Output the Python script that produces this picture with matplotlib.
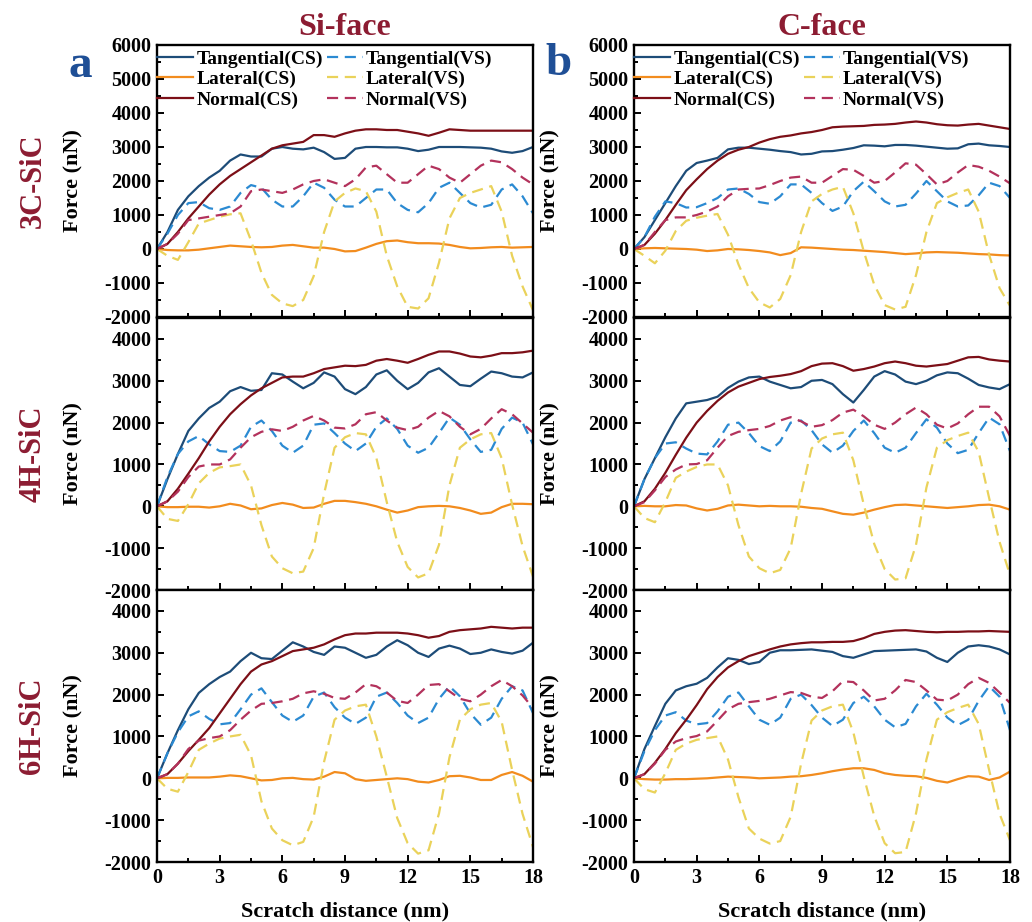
import numpy as np
import matplotlib
matplotlib.use("Agg")
import matplotlib.pyplot as plt
from matplotlib.ticker import MultipleLocator

plt.rcParams['font.family'] = 'Liberation Serif'
plt.rcParams['font.weight'] = 'bold'
plt.rcParams['axes.labelweight'] = 'bold'
plt.rcParams['axes.titleweight'] = 'bold'
plt.rcParams['axes.unicode_minus'] = False

# scratch distance (nm), sampled every 0.5 nm
dist = np.arange(0, 18.5, 0.5)

# ---- Si-face, 3C-SiC ----
si3c_tan_cs = [0, 500, 1150, 1550, 1850, 2100, 2300, 2600, 2780, 2720, 2720, 2950, 3000, 2950, 2930, 2980, 2850, 2650, 2680,
               2950, 3000, 3000, 2990, 2990, 2950, 2880, 2920, 3000, 3000, 3000, 2990, 2980, 2950, 2870, 2830, 2880, 3000]
si3c_tan_vs = [0, 450, 1000, 1350, 1380, 1200, 1150, 1250, 1650, 1880, 1800, 1450, 1250, 1250, 1550, 1950, 1800, 1450, 1250,
               1250, 1500, 1750, 1750, 1350, 1150, 1080, 1350, 1800, 1950, 1650, 1350, 1220, 1300, 1750, 1900, 1550, 1050]
si3c_lat_cs = [0, -30, -40, -40, -20, 20, 60, 100, 80, 60, 50, 60, 100, 120, 80, 40, 40, 0, -70,
               -60, 40, 150, 230, 250, 200, 170, 170, 160, 120, 60, 20, 30, 50, 60, 40, 50, 60]
si3c_lat_vs = [0, -200, -320, 200, 750, 850, 950, 1020, 1050, 250, -700, -1350, -1600, -1680, -1500, -800, 500, 1400, 1650,
               1780, 1700, 1100, -200, -1100, -1700, -1750, -1450, -400, 900, 1500, 1650, 1750, 1850, 1100, -200, -1100, -1800]
si3c_nor_cs = [0, 150, 500, 900, 1250, 1600, 1900, 2150, 2350, 2550, 2750, 2950, 3050, 3100, 3150, 3350, 3350, 3300, 3400,
               3480, 3520, 3520, 3500, 3500, 3450, 3400, 3330, 3420, 3520, 3500, 3480, 3480, 3480, 3480, 3480, 3480, 3480]
si3c_nor_vs = [0, 150, 450, 850, 900, 950, 1000, 1050, 1250, 1700, 1750, 1700, 1650, 1750, 1900, 2000, 2050, 1950, 1850,
               2050, 2400, 2450, 2200, 1950, 1950, 2200, 2450, 2350, 2100, 1950, 2200, 2450, 2600, 2550, 2350, 2100, 1900]

# ---- Si-face, 4H-SiC ----
si4h_tan_cs = [0, 650, 1250, 1800, 2100, 2350, 2500, 2750, 2850, 2760, 2780, 3180, 3150, 2980, 2820, 2950, 3200, 3100, 2800,
               2680, 2850, 3150, 3250, 3000, 2800, 2950, 3200, 3300, 3100, 2900, 2870, 3050, 3220, 3180, 3100, 3080, 3200]
si4h_tan_vs = [0, 700, 1250, 1550, 1680, 1480, 1320, 1300, 1450, 1900, 2050, 1800, 1450, 1280, 1450, 1950, 1980, 1750, 1500,
               1320, 1500, 1900, 2100, 1850, 1450, 1280, 1400, 1750, 2120, 1950, 1600, 1300, 1350, 1850, 2120, 2000, 1480]
si4h_lat_cs = [0, -20, -20, -10, -10, -30, 0, 60, 20, -70, -50, 30, 80, 40, -40, -30, 60, 130, 130,
               100, 60, 0, -80, -150, -100, -20, 0, 10, 0, -40, -100, -180, -150, -20, 60, 60, 50]
si4h_lat_vs = [0, -300, -350, 50, 550, 800, 930, 960, 1000, 500, -450, -1200, -1480, -1600, -1560, -1000, 300, 1400, 1650,
               1750, 1720, 1160, 100, -850, -1450, -1700, -1600, -920, 500, 1400, 1600, 1720, 1750, 1150, 40, -950, -1680]
si4h_nor_cs = [0, 120, 420, 780, 1150, 1550, 1900, 2200, 2440, 2650, 2820, 2950, 3080, 3100, 3100, 3180, 3280, 3320, 3360,
               3350, 3380, 3480, 3520, 3480, 3430, 3520, 3620, 3700, 3700, 3650, 3580, 3560, 3600, 3660, 3660, 3680, 3720]
si4h_nor_vs = [0, 120, 350, 700, 950, 1000, 1000, 1120, 1400, 1650, 1780, 1840, 1800, 1900, 2050, 2160, 2050, 1880, 1860,
               1960, 2200, 2250, 2050, 1880, 1820, 1900, 2120, 2280, 2150, 1900, 1720, 1850, 2100, 2320, 2200, 1980, 1760]

# ---- Si-face, 6H-SiC ----
si6h_tan_cs = [0, 600, 1150, 1650, 2040, 2250, 2420, 2550, 2800, 3000, 2870, 2850, 3050, 3250, 3150, 3020, 2950, 3150, 3120,
               3000, 2880, 2950, 3150, 3300, 3180, 3000, 2900, 3100, 3170, 3100, 2970, 3000, 3080, 3020, 2980, 3050, 3240]
si6h_tan_vs = [0, 600, 1100, 1480, 1600, 1420, 1290, 1320, 1650, 2000, 2150, 1820, 1500, 1350, 1500, 1950, 2050, 1700, 1450,
               1300, 1450, 1950, 2050, 1800, 1500, 1320, 1450, 1900, 2200, 1960, 1550, 1280, 1450, 1900, 2200, 2100, 1560]
si6h_lat_cs = [0, 10, 10, 20, 20, 20, 40, 70, 50, 0, -50, -40, 0, 10, -20, -30, 40, 150, 120,
               -20, -60, -40, -20, 0, -20, -80, -100, -40, 50, 60, 20, -40, -40, 80, 150, 60, -80]
si6h_lat_vs = [0, -250, -320, 150, 680, 830, 950, 1000, 1040, 550, -550, -1200, -1480, -1600, -1520, -920, 400, 1400, 1620,
               1720, 1760, 1000, 40, -950, -1550, -1800, -1720, -840, 500, 1400, 1650, 1760, 1800, 1350, 200, -850, -1640]
si6h_nor_cs = [0, 100, 350, 650, 920, 1200, 1550, 1900, 2250, 2550, 2720, 2800, 2920, 3040, 3080, 3120, 3200, 3320, 3420,
               3460, 3460, 3480, 3480, 3480, 3460, 3420, 3360, 3400, 3500, 3540, 3560, 3580, 3620, 3600, 3580, 3600, 3600]
si6h_nor_vs = [0, 100, 350, 700, 900, 960, 1000, 1150, 1400, 1620, 1780, 1800, 1840, 1900, 2030, 2080, 2020, 1920, 1900,
               2050, 2250, 2200, 2050, 1850, 1800, 2000, 2230, 2250, 2080, 1900, 1840, 2000, 2200, 2350, 2200, 1980, 1680]

# ---- C-face, 3C-SiC ----
c3c_tan_cs = [0, 350, 850, 1350, 1850, 2300, 2530, 2600, 2680, 2930, 2980, 2980, 2950, 2920, 2880, 2850, 2780, 2800, 2870,
              2880, 2920, 2970, 3050, 3040, 3020, 3060, 3060, 3040, 3010, 2980, 2950, 2960, 3080, 3100, 3050, 3030, 3000]
c3c_tan_vs = [0, 350, 950, 1400, 1350, 1220, 1230, 1350, 1500, 1750, 1780, 1620, 1380, 1330, 1550, 1900, 1900, 1650, 1350,
              1120, 1250, 1700, 1980, 1700, 1400, 1250, 1300, 1630, 2000, 1700, 1400, 1250, 1280, 1580, 1950, 1850, 1500]
c3c_lat_cs = [0, 20, 30, 20, 10, 0, -20, -60, -40, 0, -10, -30, -60, -100, -180, -120, 50, 40, 20,
              0, -20, -30, -50, -70, -90, -120, -150, -130, -100, -90, -100, -110, -130, -150, -160, -180, -190]
c3c_lat_vs = [0, -200, -420, -50, 530, 830, 920, 980, 1030, 420, -450, -1150, -1570, -1720, -1470, -770, 500, 1400, 1620,
              1750, 1830, 1050, -70, -1050, -1650, -1780, -1700, -770, 500, 1350, 1520, 1650, 1750, 1100, -170, -1150, -1670]
c3c_nor_cs = [0, 120, 450, 850, 1300, 1730, 2050, 2350, 2600, 2800, 2920, 3000, 3130, 3230, 3300, 3340, 3400, 3440, 3500,
              3580, 3600, 3610, 3620, 3650, 3660, 3680, 3720, 3750, 3720, 3670, 3640, 3630, 3660, 3680, 3630, 3580, 3530]
c3c_nor_vs = [0, 120, 500, 850, 930, 930, 1000, 1100, 1250, 1550, 1750, 1770, 1780, 1880, 2000, 2100, 2130, 1950, 1950,
              2150, 2350, 2330, 2150, 1950, 2000, 2250, 2520, 2480, 2200, 1900, 2000, 2250, 2470, 2420, 2300, 2130, 1930]

# ---- C-face, 4H-SiC ----
c4h_tan_cs = [0, 650, 1150, 1650, 2100, 2460, 2500, 2540, 2620, 2830, 2980, 3080, 3100, 2980, 2900, 2820, 2850, 3000, 3020,
              2920, 2680, 2480, 2780, 3100, 3230, 3150, 2980, 2920, 3000, 3130, 3200, 3180, 3050, 2900, 2840, 2800, 2920]
c4h_tan_vs = [0, 650, 1150, 1500, 1530, 1380, 1260, 1240, 1550, 1950, 2000, 1750, 1440, 1320, 1550, 2000, 2050, 1820, 1480,
              1280, 1450, 1800, 2050, 1750, 1400, 1280, 1400, 1750, 2080, 1880, 1500, 1270, 1350, 1750, 2120, 1960, 1320]
c4h_lat_cs = [0, 10, 0, 0, 30, 20, -50, -100, -60, 20, 40, 20, 0, 10, 0, 0, -10, -40, -60,
              -120, -180, -200, -150, -80, -20, 30, 40, 20, 0, -20, -40, -20, 0, 30, 40, 0, -80]
c4h_lat_vs = [0, -280, -380, 100, 680, 830, 940, 1000, 1000, 500, -450, -1200, -1480, -1600, -1520, -1000, 300, 1380, 1620,
              1720, 1760, 1100, 40, -900, -1500, -1750, -1720, -920, 450, 1400, 1580, 1680, 1760, 1300, 200, -850, -1640]
c4h_nor_cs = [0, 120, 420, 800, 1230, 1640, 2000, 2280, 2520, 2720, 2860, 2950, 3040, 3090, 3120, 3160, 3230, 3350, 3410,
              3420, 3350, 3240, 3280, 3340, 3420, 3460, 3420, 3360, 3340, 3370, 3400, 3480, 3560, 3570, 3510, 3480, 3460]
c4h_nor_vs = [0, 100, 380, 700, 880, 1000, 1010, 1100, 1400, 1680, 1780, 1820, 1850, 1920, 2050, 2130, 2030, 1900, 1940,
              2060, 2240, 2310, 2150, 1950, 1850, 2000, 2200, 2360, 2200, 1950, 1860, 1980, 2200, 2380, 2380, 2150, 1680]

# ---- C-face, 6H-SiC ----
c6h_tan_cs = [0, 700, 1250, 1780, 2100, 2200, 2260, 2400, 2650, 2870, 2830, 2730, 2780, 3000, 3060, 3060, 3070, 3080, 3050,
              3020, 2920, 2880, 2960, 3040, 3050, 3060, 3070, 3080, 3030, 2880, 2780, 3000, 3150, 3180, 3150, 3080, 2960]
c6h_tan_vs = [0, 650, 1150, 1500, 1580, 1380, 1290, 1320, 1600, 1950, 2050, 1720, 1400, 1280, 1450, 1900, 2000, 1750, 1450,
              1250, 1400, 1800, 1950, 1720, 1400, 1220, 1300, 1720, 2020, 1760, 1450, 1270, 1400, 1850, 2200, 1950, 1150]
c6h_lat_cs = [0, -20, -30, -30, -20, -20, -10, 0, 20, 40, 30, 20, 0, 10, 20, 40, 50, 80, 120,
              170, 210, 240, 240, 200, 120, 80, 60, 50, 10, -60, -100, -20, 50, 40, -40, 20, 160]
c6h_lat_vs = [0, -260, -340, 120, 680, 830, 920, 960, 1000, 450, -450, -1200, -1440, -1560, -1500, -920, 350, 1380, 1620,
              1720, 1760, 1100, 40, -900, -1550, -1790, -1760, -840, 450, 1400, 1580, 1680, 1760, 1300, 200, -850, -1480]
c6h_nor_cs = [0, 100, 370, 700, 1080, 1400, 1750, 2130, 2420, 2650, 2800, 2920, 3000, 3080, 3150, 3200, 3230, 3250, 3250,
              3260, 3260, 3280, 3350, 3450, 3500, 3530, 3540, 3520, 3500, 3490, 3500, 3500, 3510, 3510, 3520, 3510, 3500]
c6h_nor_vs = [0, 100, 350, 680, 880, 960, 1010, 1120, 1380, 1650, 1780, 1820, 1850, 1900, 1980, 2060, 2040, 1950, 1920,
              2080, 2320, 2300, 2100, 1860, 1900, 2100, 2350, 2300, 2100, 1880, 1860, 2000, 2250, 2400, 2280, 2050, 1800]

polytypes = ['3C-SiC', '4H-SiC', '6H-SiC']
faces = ['Si-face', 'C-face']
series_names = ['Tangential(CS)', 'Tangential(VS)', 'Lateral(CS)', 'Lateral(VS)', 'Normal(CS)', 'Normal(VS)']
series_colors = ['#1d4c78', '#2b8ad2', '#f28c1e', '#ead25a', '#7c0f17', '#b3325c']

panels = [
    [[si3c_tan_cs, si3c_tan_vs, si3c_lat_cs, si3c_lat_vs, si3c_nor_cs, si3c_nor_vs],
     [si4h_tan_cs, si4h_tan_vs, si4h_lat_cs, si4h_lat_vs, si4h_nor_cs, si4h_nor_vs],
     [si6h_tan_cs, si6h_tan_vs, si6h_lat_cs, si6h_lat_vs, si6h_nor_cs, si6h_nor_vs]],
    [[c3c_tan_cs, c3c_tan_vs, c3c_lat_cs, c3c_lat_vs, c3c_nor_cs, c3c_nor_vs],
     [c4h_tan_cs, c4h_tan_vs, c4h_lat_cs, c4h_lat_vs, c4h_nor_cs, c4h_nor_vs],
     [c6h_tan_cs, c6h_tan_vs, c6h_lat_cs, c6h_lat_vs, c6h_nor_cs, c6h_nor_vs]],
]

red_txt = '#8c1c32'
blue_txt = '#1f4f96'

fig = plt.figure(figsize=(10.32, 9.22), dpi=100)

col_left = [157 / 1032, 634 / 1032]
ax_w = 376 / 1032
ax_h = 272 / 922
row_bottom = [1 - 317 / 922, 1 - 590 / 922, 1 - 862 / 922]

for col in range(2):
    for row in range(3):
        ax = fig.add_axes([col_left[col], row_bottom[row], ax_w, ax_h])
        handles = []
        for k, vals in enumerate(panels[col][row]):
            ls = '-' if k % 2 == 0 else (0, (5, 3))
            h, = ax.plot(dist, vals, color=series_colors[k], lw=1.6, ls=ls, label=series_names[k])
            handles.append(h)

        ax.set_xlim(0, 18)
        if row == 0:
            ax.set_ylim(-2000, 6000)
            ax.set_yticks(np.arange(-2000, 6001, 1000))
        else:
            ax.set_ylim(-2000, 4500)
            ax.set_yticks(np.arange(-2000, 4001, 1000))
        ax.yaxis.set_minor_locator(MultipleLocator(500))
        ax.set_xticks(np.arange(0, 19, 3))
        ax.xaxis.set_minor_locator(MultipleLocator(1.5))
        ax.tick_params(which='both', direction='in', width=1.4, labelsize=14.5, top=False, right=False)
        ax.tick_params(which='major', length=5, pad=4)
        ax.tick_params(which='minor', length=3)
        for sp in ax.spines.values():
            sp.set_linewidth(1.7)

        if row < 2:
            ax.tick_params(labelbottom=False)
        else:
            ax.set_xlabel('Scratch distance (nm)', fontsize=16, labelpad=10)

        ax.set_ylabel('Force (nN)', fontsize=16)
        ax.yaxis.set_label_coords(-0.195, 0.5)

        if col == 0:
            ax.text(-0.33, 0.5, polytypes[row], transform=ax.transAxes, rotation=90,
                    ha='center', va='center', fontsize=22, color=red_txt)

        if row == 0:
            order = [handles[0], handles[2], handles[4], handles[1], handles[3], handles[5]]
            ax.legend(handles=order, ncol=2, loc='upper left', bbox_to_anchor=(-0.012, 1.0),
                      frameon=False, fontsize=14, handlelength=1.85, handletextpad=0.15,
                      columnspacing=0.2, labelspacing=0.15, borderpad=0.25, borderaxespad=0)
            ax.set_title(faces[col], fontsize=23, color=red_txt, pad=7)

fig.text(80 / 1032, 1 - 66 / 922, 'a', fontsize=34, color=blue_txt, ha='center', va='center')
fig.text(558 / 1032, 1 - 64 / 922, 'b', fontsize=34, color=blue_txt, ha='center', va='center')

fig.savefig('out.png', dpi=100)
